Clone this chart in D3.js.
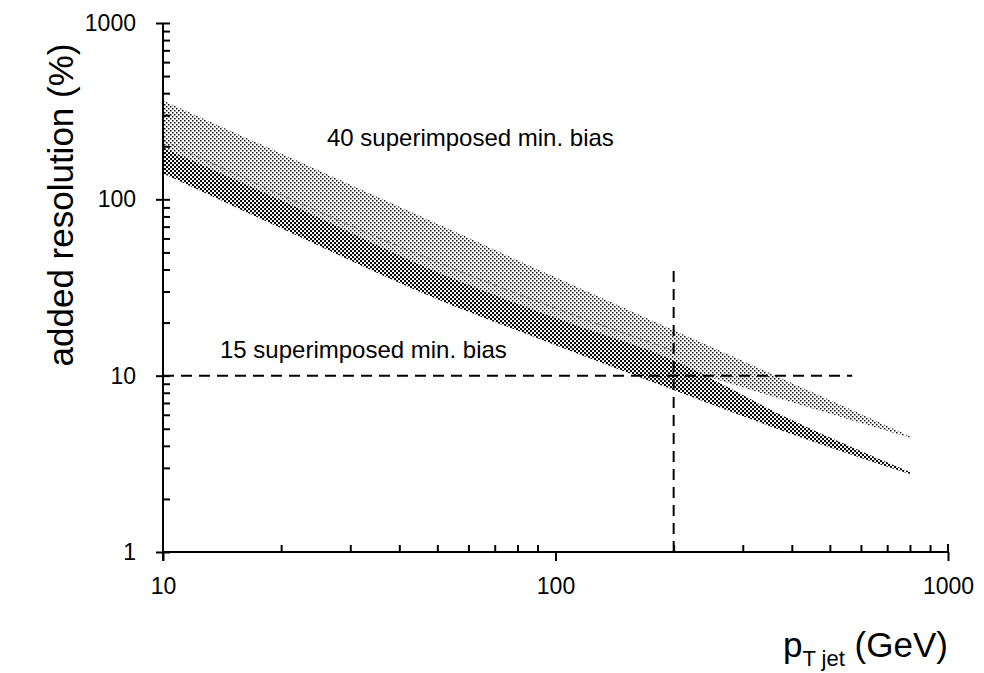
<!DOCTYPE html>
<html>
<head>
<meta charset="utf-8">
<script src="https://cdn.jsdelivr.net/npm/d3@7"></script>
<style>
  html, body { margin: 0; padding: 0; background: #fff; }
  svg { display: block; font-family: "Liberation Sans", Arial, Helvetica, sans-serif; }
</style>
</head>
<body>
<svg id="chart" width="984" height="673"></svg>
<script>
// Jet transverse momentum samples (GeV)
const ptJet = [10, 20, 50, 100, 200, 400, 800];
// Added resolution (%) band edges, 40 superimposed minimum-bias events
const band40High = [364, 182, 72.6, 36.1, 18.1, 9.1, 4.54];
const band40Low  = [155, 80.8, 32.4, 18.1, 11.3, 7.06, 4.45];
// Added resolution (%) band edges, 15 superimposed minimum-bias events
const band15High = [196, 98.7, 38.6, 21.2, 12.2, 5.6, 2.84];
const band15Low  = [140, 68.5, 27.1, 14.9, 8.3, 4.66, 2.77];
// Faint inner curve inside the upper band
const innerPt  = [10, 50, 100, 200];
const innerRes = [215, 44, 24.1, 13.9];
// Reference cuts: 10 % resolution and 200 GeV jets
const refRes = 10, refResEnd = 570;
const refPt = 200, refPtTop = 40;
// Axis ticks
const xMajor = [10, 100, 1000];
const yMajor = [1, 10, 100, 1000];
const bandLabels = ["40 superimposed min. bias", "15 superimposed min. bias"];

const svg = d3.select("#chart");
const x = d3.scaleLog().domain([10, 1000]).range([163, 948]);
const y = d3.scaleLog().domain([1, 1000]).range([552, 23]);

// halftone fills
const defs = svg.append("defs");
const light = defs.append("pattern").attr("id", "light")
  .attr("patternUnits", "userSpaceOnUse").attr("width", 4).attr("height", 4);
light.append("rect").attr("x", 0).attr("y", 0).attr("width", 1.5).attr("height", 1.5).attr("fill", "#111");
light.append("rect").attr("x", 2).attr("y", 2).attr("width", 1.5).attr("height", 1.5).attr("fill", "#111");
const dark = defs.append("pattern").attr("id", "dark")
  .attr("patternUnits", "userSpaceOnUse").attr("width", 4).attr("height", 4);
dark.append("rect").attr("x", 0).attr("y", 0).attr("width", 2.1).attr("height", 2.1).attr("fill", "#0a0a0a");
dark.append("rect").attr("x", 2).attr("y", 2).attr("width", 2.1).attr("height", 2.1).attr("fill", "#0a0a0a");

const area = (hi, lo) => d3.area()
  .x((d, i) => x(ptJet[i]))
  .y0((d, i) => y(lo[i]))
  .y1((d, i) => y(hi[i]))
  .curve(d3.curveMonotoneX);

svg.append("path").attr("d", area(band40High, band40Low)(ptJet))
  .attr("fill", "url(#light)");
svg.append("path").attr("d", area(band15High, band15Low)(ptJet))
  .attr("fill", "url(#dark)");

svg.append("path")
  .attr("d", d3.line().x((d, i) => x(innerPt[i])).y((d, i) => y(innerRes[i])).curve(d3.curveMonotoneX)(innerPt))
  .attr("fill", "none").attr("stroke", "#333").attr("stroke-width", 0.8)
  .attr("stroke-dasharray", "6,3").attr("opacity", 0.6);

// dashed reference lines
svg.append("line")
  .attr("x1", x(10)).attr("x2", x(refResEnd)).attr("y1", y(refRes)).attr("y2", y(refRes))
  .attr("stroke", "#000").attr("stroke-width", 2).attr("stroke-dasharray", "11,7");
svg.append("line")
  .attr("x1", x(refPt)).attr("x2", x(refPt)).attr("y1", y(1)).attr("y2", y(refPtTop))
  .attr("stroke", "#000").attr("stroke-width", 2).attr("stroke-dasharray", "11,7");

// minor tick values for each decade
const minorTicks = (lo, hi) => {
  const out = [];
  for (let d = lo; d < hi; d *= 10) for (let k = 2; k <= 9; k++) out.push(d * k);
  return out;
};

// x axis
const gx = svg.append("g").attr("transform", `translate(0,${y(1)})`);
gx.call(d3.axisBottom(x).tickValues(minorTicks(10, 1000)).tickSize(-7).tickFormat(""));
gx.call(g => g.select(".domain").remove());
const gxMaj = svg.append("g").attr("transform", `translate(0,${y(1)})`)
  .call(d3.axisBottom(x).tickValues(xMajor).tickSize(9).tickPadding(17).tickFormat(d3.format("d")));
gxMaj.select(".domain").attr("d", `M${x(10)},0H${x(1000)}`);
svg.append("line").attr("x1", x(1000)).attr("x2", x(1000)).attr("y1", y(1)).attr("y2", y(1) - 8)
  .attr("stroke", "#000").attr("stroke-width", 2);

// y axis
const gy = svg.append("g").attr("transform", `translate(${x(10)},0)`);
gy.call(d3.axisLeft(y).tickValues(minorTicks(1, 1000).concat(yMajor)).tickSize(-7).tickFormat(""));
gy.call(g => g.select(".domain").remove());
const gyMaj = svg.append("g").attr("transform", `translate(${x(10)},0)`)
  .call(d3.axisLeft(y).tickValues(yMajor).tickSize(7).tickPadding(20).tickFormat(d3.format("d")));
gyMaj.select(".domain").attr("d", `M0,${y(1000)}V${y(1) + 9}`);

svg.selectAll(".tick line").attr("stroke", "#000").attr("stroke-width", 2);
svg.selectAll(".domain").attr("stroke", "#000").attr("stroke-width", 2);
svg.selectAll(".tick text").attr("font-size", 23).attr("fill", "#000")
  .attr("font-family", "Liberation Sans, Arial, sans-serif");

// band labels
svg.append("text").attr("x", 327).attr("y", 146).attr("font-size", 24).text(bandLabels[0]);
svg.append("text").attr("x", 220).attr("y", 358).attr("font-size", 24).text(bandLabels[1]);

// axis titles
svg.append("text")
  .attr("transform", "translate(73,205) rotate(-90)")
  .attr("text-anchor", "middle").attr("font-size", 35)
  .text("added resolution (%)");

const xt = svg.append("text").attr("x", 783).attr("y", 657).attr("font-size", 35);
xt.append("tspan").text("p");
xt.append("tspan").attr("font-size", 22).attr("dy", 9).text("T jet");
xt.append("tspan").attr("dy", -9).text(" (GeV)");
</script>
</body>
</html>
